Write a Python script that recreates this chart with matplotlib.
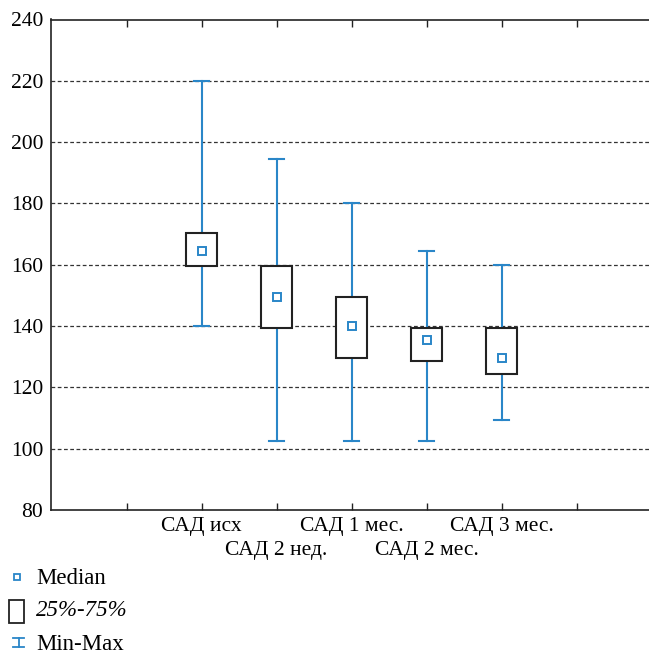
import matplotlib
matplotlib.use("Agg")
import matplotlib.pyplot as plt
from matplotlib.patches import Rectangle

plt.rcParams["font.family"] = ["Liberation Serif", "DejaVu Serif"]

# values
categories = ["САД исх", "САД 2 нед.", "САД 1 мес.", "САД 2 мес.", "САД 3 мес."]
mins = [140, 102.5, 102.5, 102.5, 109.5]
q1 = [159.5, 139.5, 129.5, 128.5, 124.5]
medians = [164.5, 149.5, 140, 135.5, 129.5]
q3 = [170.5, 159.5, 149.5, 139.5, 139.5]
maxs = [220, 194.5, 180, 164.5, 160]
y_ticks = [80, 100, 120, 140, 160, 180, 200, 220, 240]

BLUE = "#2a86c8"
DARK = "#222222"
W, H = 649, 654

fig = plt.figure(figsize=(W / 100, H / 100), dpi=100)
ax = fig.add_axes([51.5 / W, (H - 510) / H, 600 / W, 490.5 / H])

positions = list(range(2, 2 + len(categories)))
box_w = 0.42
cap_w = 0.2

for x, lo, a, m, b, hi in zip(positions, mins, q1, medians, q3, maxs):
    ax.plot([x, x], [lo, a], color=BLUE, lw=1.5, zorder=2)
    ax.plot([x, x], [b, hi], color=BLUE, lw=1.5, zorder=2)
    ax.plot([x - cap_w / 2, x + cap_w / 2], [lo, lo], color=BLUE, lw=1.5, zorder=2)
    ax.plot([x - cap_w / 2, x + cap_w / 2], [hi, hi], color=BLUE, lw=1.5, zorder=2)
    ax.add_patch(Rectangle((x - box_w / 2, a), box_w, b - a, facecolor="white",
                           edgecolor=DARK, lw=1.5, zorder=3))
    ax.plot([x], [m], marker="s", ms=5.5, mfc="white", mec=BLUE, mew=1.4,
            linestyle="none", zorder=4)

ax.set_xlim(0, 8)
ax.set_ylim(80, 240)
ax.set_yticks(y_ticks)
ax.set_yticklabels([str(v) for v in y_ticks], fontsize=15.5)
for v in y_ticks[1:-1]:
    ax.axhline(v, color="#333333", lw=0.9, ls=(0, (3, 2)), zorder=1)

# first label row on major ticks, second row on minor ticks
major_pos = [1] + positions[0::2] + [7]
major_lab = [""] + categories[0::2] + [""]
ax.set_xticks(major_pos, major_lab, fontsize=15.5)
ax.set_xticks(positions[1::2], categories[1::2], fontsize=15.5, minor=True)
ax.tick_params(axis="x", which="both", direction="in", length=5, width=1.0,
               top=True, colors=DARK, labelcolor="black")
ax.tick_params(axis="x", which="major", pad=5)
ax.tick_params(axis="x", which="minor", pad=22)
ax.tick_params(axis="y", length=0, pad=6)

ax.spines["right"].set_visible(False)
for s in ("left", "bottom", "top"):
    ax.spines[s].set_color(DARK)
    ax.spines[s].set_linewidth(1.2)

# legend drawn in pixel-like coordinates
leg = fig.add_axes([0, 0, 1, 1], zorder=-1)
leg.set_xlim(0, W)
leg.set_ylim(H, 0)
leg.axis("off")
leg.plot([16.5], [577], marker="s", ms=5, mfc="white", mec=BLUE, mew=1.3)
leg.add_patch(Rectangle((8.5, 599.5), 15, 23, facecolor="white", edgecolor=DARK, lw=1.3))
leg.plot([18.5, 18.5], [638, 647], color=BLUE, lw=1.3)
leg.plot([13, 24], [638, 638], color=BLUE, lw=1.3)
leg.plot([13, 24], [647, 647], color=BLUE, lw=1.3)
leg.text(36, 578, "Median", fontsize=16.5, va="center")
leg.text(36, 611, "25%-75%", fontsize=16.5, va="center", style="italic")
leg.text(36, 645, "Min-Max", fontsize=16.5, va="center")

fig.savefig("out.png", dpi=100)
